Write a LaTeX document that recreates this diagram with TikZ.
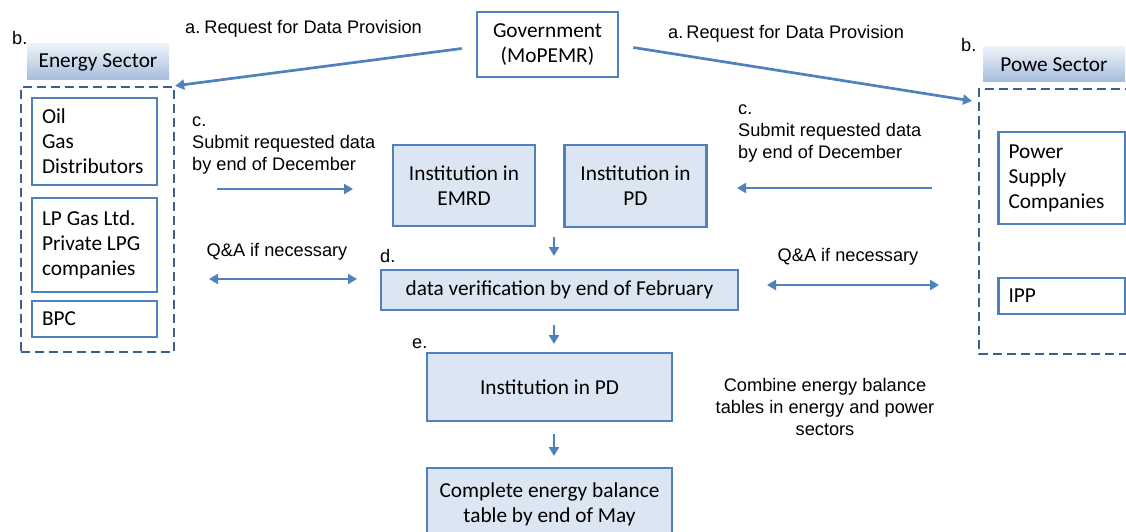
\documentclass[tikz,border=0pt]{standalone}
\usepackage{fontspec}
\setmainfont{Carlito}
\newfontfamily\arialfont{Liberation Sans}
\usetikzlibrary{arrows.meta}
\definecolor{boxblue}{HTML}{4F81BD}
\definecolor{fillblue}{HTML}{DCE6F2}
\definecolor{dashblue}{HTML}{3B5F8E}
\definecolor{headtop}{HTML}{EEF3F9}
\definecolor{headbot}{HTML}{A4BCDC}
\begin{document}
\begin{tikzpicture}[x=1pt,y=-1pt,
    box/.style={draw=boxblue,line width=2.6pt,align=center,inner sep=0pt,
      font=\fontsize{21.3}{25}\selectfont},
    filled/.style={box,fill=fillblue},
    member/.style={box,align=flush left,text width=#1,inner xsep=10pt},
    header/.style={top color=headtop,bottom color=headbot,inner sep=0pt,
      font=\fontsize{21.3}{25}\selectfont},
    group/.style={draw=dashblue,line width=2.4pt,dash pattern=on 9pt off 5pt},
    lbl/.style={font=\arialfont\fontsize{18.2}{22}\selectfont,inner sep=0pt},
    arr/.style={draw=boxblue,line width=2.7pt,-{Triangle[length=9pt,width=10pt]}},
    twoway/.style={draw=boxblue,line width=2.7pt,{Triangle[length=9pt,width=10pt]}-{Triangle[length=9pt,width=10pt]}}]
\useasboundingbox (0,0) rectangle (1126,532);

% government and requests
\node[box,minimum width=141,minimum height=65] (gov) at (547.5,44.5) {Government\\(MoPEMR)};
\node[lbl,anchor=west] (reqleft) at (185,29) {a.\hspace{4pt}Request for Data Provision};
\node[lbl,anchor=west] (reqright) at (668,34) {a.\,Request for Data Provision};

% energy sector
\node[lbl,anchor=west] (bleft) at (12,38) {b.};
\node[header,minimum width=142,minimum height=36] (esec) at (98,62) {Energy Sector};
\node[group,minimum width=153,minimum height=265] (egroup) at (97.5,219.5) {};
\node[member=105,minimum height=87] (oil) at (94.5,141.5) {Oil\\Gas\\Distributors};
\node[member=105,minimum height=94] (lpg) at (94.5,245) {LP Gas Ltd.\\Private LPG\\companies};
\node[member=105,minimum height=36] (bpc) at (94.5,319) {BPC};

% power sector
\node[lbl,anchor=west] (bright) at (961,45) {b.};
\node[header,minimum width=142,minimum height=35] (psec) at (1054,64.5) {Powe Sector};
\draw[group] (1134,89) -- (979,89) -- (979,354) -- (1134,354);
\coordinate (ptop) at (972,101);
\node[member=107,minimum height=92] (psc) at (1062,178) {Power\\Supply\\Companies};
\node[member=107,minimum height=36] (ipp) at (1062,296) {IPP};

\draw[arr] ([shift={(-14,4)}]gov.west) -- (egroup.north east);
\draw[arr] ([shift={(14,3)}]gov.east) -- (ptop);

% submission
\node[lbl,anchor=west,align=left] (subleft) at (192,145) {c.\\Submit requested data\\by end of December};
\node[lbl,anchor=west,align=left] (subright) at (738,133) {c.\\Submit requested data\\by end of December};
\node[filled,minimum width=142,minimum height=81] (emrd) at (464,185.5) {Institution in\\EMRD};
\node[filled,minimum width=142,minimum height=82] (pd) at (635.5,186) {Institution in\\PD};
\coordinate (cl1) at (217,189);
\coordinate (cl2) at (353,189);
\coordinate (cr1) at (932,188);
\coordinate (cr2) at (737,188);
\draw[arr] (cl1) -- (cl2);
\draw[arr] (cr1) -- (cr2);

% verification
\node[lbl,anchor=west] (dlbl) at (380,256) {d.};
\node[filled,minimum width=357,minimum height=40] (verify) at (559.5,290) {data verification by end of February};
\draw[arr] (554,237) -- (554,256);
\node[lbl] (qaleft) at (277,252) {Q\&A if necessary};
\node[lbl] (qaright) at (848,257) {Q\&A if necessary};
\coordinate (ql1) at (209,279);
\coordinate (ql2) at (357,279);
\coordinate (qr1) at (767,285);
\coordinate (qr2) at (939,285);
\draw[twoway] (ql1) -- (ql2);
\draw[twoway] (qr1) -- (qr2);

% combination
\node[lbl,anchor=west] (elbl) at (412,344) {e.};
\node[filled,minimum width=245,minimum height=68] (pdfinal) at (549.5,387) {Institution in PD};
\node[lbl,align=center] (combine) at (825,407) {Combine energy balance\\tables in energy and power\\sectors};
\node[filled,minimum width=245,minimum height=72] (complete) at (549.5,504) {Complete energy balance\\table by end of May};
\draw[arr] (554,325) -- (554,344);
\draw[arr] (554,434) -- (554,456);
\end{tikzpicture}
\end{document}
